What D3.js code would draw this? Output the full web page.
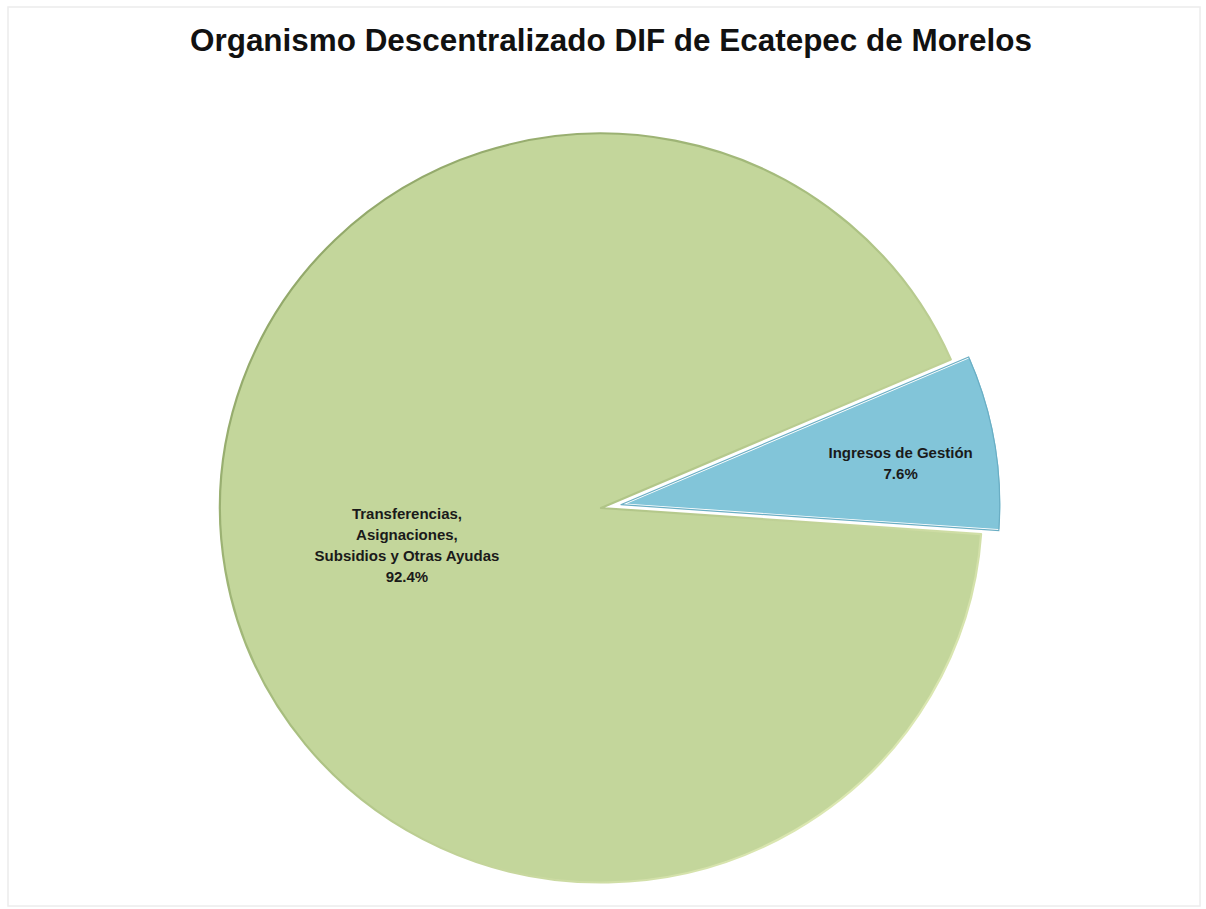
<!DOCTYPE html>
<html>
<head>
<meta charset="utf-8">
<script src="https://cdn.jsdelivr.net/npm/d3@7"></script>
<style>
  html, body { margin: 0; padding: 0; background: #ffffff; }
  svg { display: block; }
</style>
</head>
<body>
<script>
// ---- data ----
const title = "Organismo Descentralizado DIF de Ecatepec de Morelos";
const categories = ["Transferencias, Asignaciones, Subsidios y Otras Ayudas", "Ingresos de Gestión"];
const labelLines = [
  ["Transferencias,", "Asignaciones,", "Subsidios y Otras Ayudas", "92.4%"],
  ["Ingresos de Gestión", "7.6%"]
];
const values = [92.4, 7.6];

// ---- layout / style ----
const W = 1206, H = 909;
const cx = 601, cy = 508, R = 381, squash = 0.983;
const explode = [0, 20];
const labelRadius = [0.53, 0.74];
const labelNudgeX = [5, 2];
const labelNudgeY = [4, 5];
const fills = ["#C3D69B", "#82C5D9"];
const startDeg = 94;

const svg = d3.select("body").append("svg")
  .attr("width", W).attr("height", H);

const defs = svg.append("defs");
const g1 = defs.append("linearGradient").attr("id", "rimGreen")
  .attr("x1", "0%").attr("y1", "0%").attr("x2", "100%").attr("y2", "100%");
g1.append("stop").attr("offset", "0%").attr("stop-color", "#889e60");
g1.append("stop").attr("offset", "45%").attr("stop-color", "#a9bf80");
g1.append("stop").attr("offset", "100%").attr("stop-color", "#eef6c4");

// faint frame
svg.append("rect").attr("x", 8).attr("y", 7).attr("width", W - 14).attr("height", H - 10)
  .attr("fill", "#ffffff").attr("stroke", "#ececec").attr("stroke-width", 1.5);

// title
svg.append("text")
  .attr("x", 190).attr("y", 51)
  .attr("font-family", "'Liberation Sans', Arial, sans-serif")
  .attr("font-weight", "bold").attr("font-size", 31)
  .attr("fill", "#111")
  .attr("textLength", 842).attr("lengthAdjust", "spacingAndGlyphs")
  .text(title);

const start = startDeg * Math.PI / 180;
const pie = d3.pie().sort(null).startAngle(start).endAngle(start + 2 * Math.PI);
const arcs = pie(values);
const arc = d3.arc().innerRadius(0).outerRadius(R);

const offset = (d, i) => {
  const a = (d.startAngle + d.endAngle) / 2;
  return [explode[i] * Math.sin(a), -explode[i] * Math.cos(a)];
};

const chart = svg.append("g").attr("transform", `translate(${cx},${cy}) scale(1,${squash})`);

const slices = chart.selectAll("g.slice").data(arcs).enter().append("g")
  .attr("class", "slice")
  .attr("transform", (d, i) => { const o = offset(d, i); return `translate(${o[0]},${o[1]})`; });

slices.append("path")
  .attr("d", arc)
  .attr("fill", (d, i) => fills[i])
  .attr("stroke", (d, i) => i === 0 ? "url(#rimGreen)" : "#ffffff")
  .attr("stroke-width", (d, i) => i === 0 ? 2.2 : 3)
  .attr("stroke-linejoin", "round");

// inner rim on the small slice
slices.filter((d, i) => i === 1).append("path")
  .attr("d", d3.arc().innerRadius(0).outerRadius(R - 2))
  .attr("fill", "none")
  .attr("stroke", "#6aaec4").attr("stroke-width", 1.2);

// labels (unsquashed)
const labels = svg.append("g").attr("transform", `translate(${cx},${cy})`);
arcs.forEach((d, i) => {
  const a = (d.startAngle + d.endAngle) / 2;
  const o = offset(d, i);
  const r = R * labelRadius[i];
  const x = o[0] + r * Math.sin(a) + labelNudgeX[i];
  const y = (o[1] - r * Math.cos(a)) * squash + labelNudgeY[i];
  const lines = labelLines[i];
  const lh = 21;
  const y0 = y - (lines.length - 1) * lh / 2 + 5;
  lines.forEach((ln, k) => {
    labels.append("text")
      .attr("x", x)
      .attr("y", y0 + k * lh)
      .attr("text-anchor", "middle")
      .attr("font-family", "'Liberation Sans', Arial, sans-serif")
      .attr("font-weight", "bold").attr("font-size", 15)
      .attr("fill", "#1a1a1a")
      .text(ln);
  });
});
</script>
</body>
</html>
